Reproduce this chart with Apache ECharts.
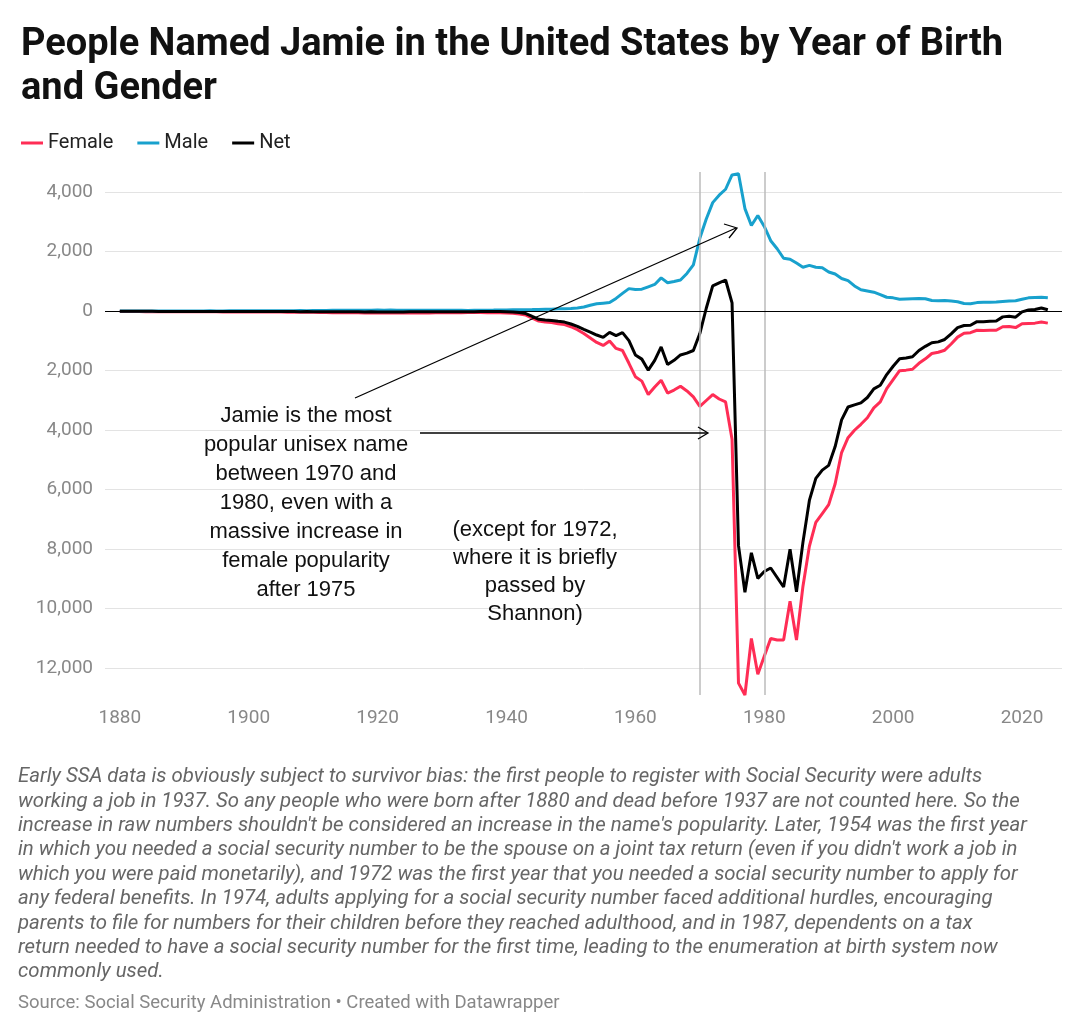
<!DOCTYPE html>
<html>
<head><meta charset="utf-8">
<title>People Named Jamie</title>
<script src="https://cdn.jsdelivr.net/npm/echarts@6/dist/echarts.min.js"></script>
<style>html,body{margin:0;background:#fff;}#main{width:1080px;height:1034px;}</style>
</head>
<body>
<div id="main"></div>
<script>
// years 1880..2024
var years = [];
for (var y = 1880; y <= 2024; y++) years.push(y);

// female counts, plotted below zero
var female = [
  -10,-8,-12,-10,-14,-12,-15,-13,-16,-14,
  -15,-13,-18,-16,-20,-18,-22,-20,-24,-22,
  -25,-22,-26,-28,-30,-28,-32,-30,-35,-33,
  -38,-40,-45,-48,-50,-52,-55,-53,-58,-55,
  -60,-58,-62,-60,-58,-55,-57,-54,-56,-52,
  -50,-48,-45,-47,-44,-46,-43,-48,-50,-55,
  -60,-70,-90,-130,-230,-330,-360,-380,-420,-450,
  -520,-620,-750,-900,-1050,-1150,-1000,-1250,-1320,-1750,
  -2200,-2350,-2800,-2550,-2320,-2750,-2650,-2520,-2680,-2880,
  -3200,-3000,-2800,-2950,-3050,-4300,-12500,-12900,-11000,-12200,
  -11600,-11000,-11050,-11050,-9750,-11050,-9250,-7900,-7100,-6800,
  -6500,-5800,-4750,-4250,-4000,-3800,-3580,-3250,-3050,-2600,
  -2300,-2000,-1980,-1950,-1750,-1600,-1420,-1380,-1310,-1100,
  -870,-740,-720,-640,-650,-640,-640,-520,-510,-550,
  -420,-410,-400,-360,-400
];
var male = [
  8,6,9,7,10,8,9,7,10,8,
  9,8,11,9,12,10,11,12,13,12,
  14,12,15,16,18,17,19,18,21,20,
  24,26,28,30,32,33,35,34,36,35,
  38,36,39,37,36,35,37,34,36,33,
  32,30,29,31,28,30,32,35,38,42,
  45,48,50,52,55,60,65,70,80,85,
  90,110,140,200,250,270,290,430,600,760,
  730,740,820,900,1120,960,1000,1050,1270,1560,
  2450,3100,3650,3900,4100,4580,4620,3450,2880,3220,
  2850,2370,2100,1780,1750,1620,1480,1540,1480,1460,
  1320,1250,1100,1030,850,720,680,640,560,470,
  450,400,410,420,430,420,360,350,360,340,
  320,260,250,290,300,300,310,330,340,350,
  400,450,460,470,450
];
// net = male + female
var net = male.map(function (v, i) { return v + female[i]; });

var yTicks = [-12000, -10000, -8000, -6000, -4000, -2000, 0, 2000, 4000];
var xTicks = [1880, 1900, 1920, 1940, 1960, 1980, 2000, 2020];

function pairs(arr) {
  return arr.map(function (v, i) { return [years[i], v]; });
}

var note = "Early SSA data is obviously subject to survivor bias: the first people to register with Social Security were adults\n" +
  "working a job in 1937. So any people who were born after 1880 and dead before 1937 are not counted here. So the\n" +
  "increase in raw numbers shouldn't be considered an increase in the name's popularity. Later, 1954 was the first year\n" +
  "in which you needed a social security number to be the spouse on a joint tax return (even if you didn't work a job in\n" +
  "which you were paid monetarily), and 1972 was the first year that you needed a social security number to apply for\n" +
  "any federal benefits. In 1974, adults applying for a social security number faced additional hurdles, encouraging\n" +
  "parents to file for numbers for their children before they reached adulthood, and in 1987, dependents on a tax\n" +
  "return needed to have a social security number for the first time, leading to the enumeration at birth system now\n" +
  "commonly used.";

var chart = echarts.init(document.getElementById('main'));
chart.setOption({
  animation: false,
  textStyle: { fontFamily: 'Roboto' },
  title: {
    text: 'People Named Jamie in the United States by Year of Birth\nand Gender',
    left: 16, top: 18,
    textStyle: { fontSize: 38, fontWeight: 'bold', color: '#111', lineHeight: 44 }
  },
  legend: {
    left: 16, top: 128, itemGap: 24,
    icon: 'rect', itemWidth: 22, itemHeight: 3,
    textStyle: { fontSize: 20, color: '#222' },
    data: ['Female', 'Male', 'Net']
  },
  grid: { left: 105, right: 18, top: 172, bottom: 339 },
  xAxis: {
    type: 'value', min: 1877.7, max: 2026.2,
    axisLine: { show: false }, axisTick: { show: false }, splitLine: { show: false },
    axisLabel: { customValues: xTicks, fontSize: 19, color: '#888', margin: 14,
      formatter: function (v) { return String(v); } }
  },
  yAxis: {
    type: 'value', min: -12900, max: 4680,
    axisLine: { show: false },
    axisTick: { show: false, customValues: yTicks },
    splitLine: { show: true, lineStyle: { color: '#e3e3e3', width: 1 } },
    axisLabel: {
      customValues: yTicks, fontSize: 19, color: '#888', margin: 12,
      formatter: function (v) { return Math.abs(v).toLocaleString('en-US'); }
    }
  },
  series: [
    {
      name: 'Female', type: 'line', data: pairs(female), showSymbol: false,
      lineStyle: { color: '#ff2d55', width: 3 }, itemStyle: { color: '#ff2d55' }, z: 3,
      markLine: {
        silent: true, symbol: 'none', label: { show: false },
        lineStyle: { color: '#bbb', width: 1.5, type: 'solid' },
        data: [{ xAxis: 1970 }, { xAxis: 1980 }]
      }
    },
    {
      name: 'Male', type: 'line', data: pairs(male), showSymbol: false,
      lineStyle: { color: '#18a1cd', width: 3 }, itemStyle: { color: '#18a1cd' }, z: 3
    },
    {
      name: 'Net', type: 'line', data: pairs(net), showSymbol: false,
      lineStyle: { color: '#000', width: 3 }, itemStyle: { color: '#000' }, z: 4,
      markLine: {
        silent: true, symbol: 'none', label: { show: false },
        lineStyle: { color: '#000', width: 1.2, type: 'solid' },
        data: [{ yAxis: 0 }]
      }
    }
  ],
  graphic: [
    { type: 'line', z: 10, shape: { x1: 355, y1: 398, x2: 736, y2: 228 }, style: { stroke: '#000', lineWidth: 1.3 } },
    { type: 'polyline', z: 10, shape: { points: [[724, 224], [737, 228], [729, 238]] }, style: { stroke: '#000', fill: null, lineWidth: 1.3 } },
    { type: 'line', z: 10, shape: { x1: 420, y1: 433, x2: 707, y2: 433 }, style: { stroke: '#000', lineWidth: 1.3 } },
    { type: 'polyline', z: 10, shape: { points: [[698, 427], [708, 433], [698, 439]] }, style: { stroke: '#000', fill: null, lineWidth: 1.3 } },
    {
      type: 'text', z: 11, x: 306, y: 401,
      style: {
        text: 'Jamie is the most\npopular unisex name\nbetween 1970 and\n1980, even with a\nmassive increase in\nfemale popularity\nafter 1975',
        x: 0, y: 0, align: 'center', fontSize: 22, lineHeight: 29, fill: '#111',
        fontFamily: 'Liberation Sans'
      }
    },
    {
      type: 'text', z: 11, x: 535, y: 516,
      style: {
        text: '(except for 1972,\nwhere it is briefly\npassed by\nShannon)',
        x: 0, y: 0, align: 'center', fontSize: 22, lineHeight: 28, fill: '#111',
        fontFamily: 'Liberation Sans'
      }
    },
    {
      type: 'text', left: 18, top: 765,
      style: { text: note, fontSize: 20.4, lineHeight: 24.4, fill: '#666', fontStyle: 'italic', fontFamily: 'Roboto' }
    },
    {
      type: 'text', left: 18, top: 994,
      style: { text: 'Source: Social Security Administration • Created with Datawrapper', fontSize: 18.5, fill: '#888', fontFamily: 'Roboto' }
    }
  ]
});
</script>
</body>
</html>
